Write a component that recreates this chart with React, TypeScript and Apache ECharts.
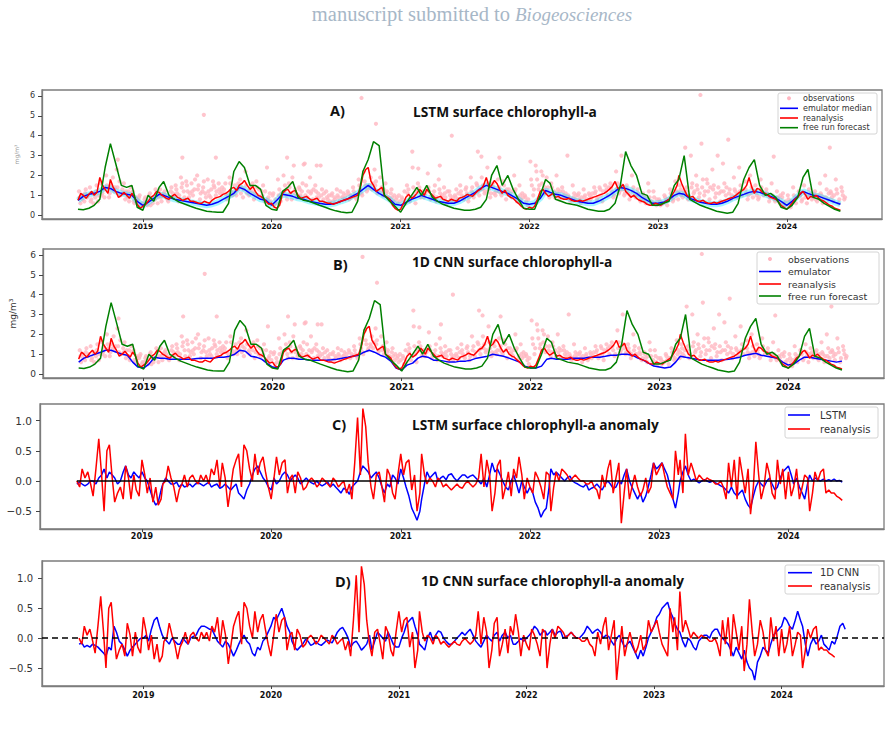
import React, { useEffect, useRef } from "react";
import * as echarts from "echarts";

// Half-monthly sampling, starting 2018-07-01 (slot 0) and ending 2024-06-01 (slot 142);
// "Mid" arrays hold the value 8 days after each slot start.
const slotDate = (i: number, offsetDays = 0) =>
  Date.UTC(2018, 6 + Math.floor(i / 2), (i % 2 ? 16 : 1) + offsetDays);

const YEAR_TICKS = [2019, 2020, 2021, 2022, 2023, 2024].map((y) => Date.UTC(y, 0, 1));

// Surface chlorophyll-a, mg/m3
const reanalysis = [
  0.75, 1.0, 1.05, 1.0, 1.9, 1.3, 1.8, 1.2, 1.0, 1.0, 1.1, 0.55,
  0.45, 0.7, 1.0, 1.15, 0.95, 0.8, 1.05, 0.85, 0.8, 0.7, 0.65, 0.6, 0.65, 0.75, 0.9, 1.05, 1.2, 1.4, 1.5, 1.75, 1.3, 1.2, 0.95, 0.7,
  0.6, 0.35, 1.1, 1.3, 1.2, 1.0, 0.9, 0.85, 0.8, 0.7, 0.65, 0.6, 0.6, 0.7, 0.8, 0.9, 1.0, 2.0, 2.4, 1.5, 1.3, 1.0, 0.8, 0.35,
  0.3, 0.9, 0.85, 1.1, 1.2, 1.3, 1.0, 0.9, 0.8, 0.7, 0.75, 0.85, 0.95, 1.0, 1.1, 1.3, 1.9, 1.5, 1.6, 1.1, 1.0, 0.85, 0.6, 0.35,
  0.4, 0.45, 1.2, 1.1, 1.0, 0.9, 0.85, 0.8, 0.75, 0.7, 0.7, 0.8, 0.9, 1.0, 1.1, 1.3, 1.7, 1.4, 1.2, 0.9, 0.85, 0.7, 0.55, 0.5,
  0.55, 0.6, 0.8, 1.2, 2.0, 1.3, 0.9, 0.8, 0.7, 0.65, 0.6, 0.6, 0.7, 0.8, 0.9, 1.1, 1.3, 1.9, 1.1, 1.3, 1.1, 0.9, 0.8, 0.5,
  0.3, 0.6, 0.9, 1.2, 0.8, 0.9, 0.85, 0.7, 0.5, 0.35, 0.25,
];
const reanalysisMid = [
  1.1, 0.85, 1.2, 1.15, 1.5, 1.1, 1.4, 0.9, 1.15, 0.85, 0.9, 0.35,
  0.55, 0.9, 1.2, 1.0, 0.85, 0.95, 0.9, 0.75, 0.85, 0.7, 0.6, 0.7, 0.6, 0.85, 0.95, 1.1, 1.35, 1.25, 1.6, 1.5, 1.45, 1.0, 0.85, 0.55,
  0.4, 0.5, 1.25, 1.1, 1.25, 0.85, 0.95, 0.75, 0.85, 0.7, 0.6, 0.55, 0.65, 0.75, 0.85, 0.95, 1.4, 2.3, 1.7, 1.2, 1.4, 0.9, 0.5, 0.25,
  0.6, 1.05, 0.95, 1.3, 1.0, 1.15, 0.85, 0.95, 0.75, 0.8, 0.7, 0.9, 1.05, 0.95, 1.25, 1.5, 1.4, 1.75, 1.3, 1.25, 0.9, 0.7, 0.45, 0.3,
  0.35, 0.8, 1.3, 0.95, 1.1, 0.95, 0.8, 0.85, 0.7, 0.75, 0.75, 0.85, 0.95, 1.05, 1.2, 1.45, 1.35, 1.55, 1.05, 1.0, 0.75, 0.65, 0.5, 0.6,
  0.5, 0.7, 1.0, 1.5, 1.6, 1.0, 0.95, 0.7, 0.75, 0.6, 0.65, 0.65, 0.75, 0.85, 1.0, 1.2, 1.5, 1.4, 1.35, 1.15, 1.0, 0.85, 0.65, 0.4,
  0.45, 0.8, 1.1, 1.0, 0.95, 1.0, 0.75, 0.6, 0.45, 0.3,
];

const freeRun = [
  0.3, 0.28, 0.35, 0.5, 0.8, 2.4, 3.6, 2.6, 1.5, 1.4, 1.5, 0.4,
  0.25, 1.0, 0.7, 1.4, 1.7, 1.0, 0.8, 0.65, 0.55, 0.45, 0.35, 0.28, 0.2, 0.17, 0.15, 0.15, 0.6, 2.2, 2.7, 2.4, 1.5, 1.5, 1.3, 0.5,
  0.3, 0.25, 1.2, 1.4, 1.7, 0.9, 0.75, 0.7, 0.6, 0.5, 0.4, 0.3, 0.22, 0.16, 0.12, 0.15, 0.7, 2.2, 2.8, 3.7, 3.5, 1.0, 0.7, 0.45,
  0.15, 0.6, 1.0, 1.4, 1.0, 1.5, 0.9, 0.7, 0.55, 0.45, 0.35, 0.3, 0.25, 0.25, 0.3, 0.4, 0.8, 2.0, 2.5, 1.5, 2.0, 1.3, 0.8, 0.35,
  0.3, 0.3, 1.0, 1.8, 1.6, 0.8, 0.7, 0.6, 0.55, 0.5, 0.4, 0.3, 0.25, 0.2, 0.2, 0.3, 0.6, 1.5, 3.2, 2.5, 2.0, 1.1, 1.0, 0.5,
  0.5, 0.6, 0.7, 1.5, 1.8, 3.0, 0.8, 0.65, 0.5, 0.4, 0.3, 0.2, 0.15, 0.1, 0.15, 0.6, 1.8, 2.4, 2.8, 1.5, 1.0, 1.1, 0.9, 0.4,
  0.3, 0.5, 0.9, 1.9, 2.3, 0.9, 0.8, 0.6, 0.45, 0.3, 0.2,
];

const lstmMedian = [
  0.75, 0.95, 1.05, 1.1, 1.2, 1.4, 1.35, 1.2, 1.1, 1.05, 1.0, 0.7,
  0.5, 0.65, 0.85, 1.05, 1.0, 0.9, 0.8, 0.75, 0.7, 0.65, 0.6, 0.55, 0.5, 0.55, 0.65, 0.8, 0.95, 1.1, 1.4, 1.3, 1.1, 0.95, 0.8, 0.75,
  0.5, 0.75, 1.05, 1.0, 0.95, 0.85, 0.8, 0.7, 0.65, 0.6, 0.55, 0.55, 0.6, 0.7, 0.8, 0.95, 1.1, 1.3, 1.5, 1.3, 1.1, 0.95, 0.8, 0.55,
  0.5, 0.65, 0.8, 0.9, 1.0, 0.9, 0.8, 0.7, 0.65, 0.6, 0.6, 0.7, 0.85, 1.0, 1.15, 1.35, 1.5, 1.4, 1.3, 1.2, 1.1, 0.95, 0.8, 0.6,
  0.55, 0.6, 0.85, 1.25, 1.15, 1.05, 1.0, 0.9, 0.8, 0.7, 0.65, 0.6, 0.6, 0.7, 0.85, 1.0, 1.2, 1.4, 1.35, 1.25, 1.1, 0.9, 0.75, 0.6,
  0.6, 0.65, 0.8, 1.0, 1.1, 1.05, 0.85, 0.75, 0.65, 0.6, 0.55, 0.55, 0.6, 0.7, 0.85, 0.95, 1.05, 1.15, 1.2, 1.15, 1.05, 0.95, 0.85, 0.7,
  0.5, 0.7, 0.95, 1.2, 1.1, 1.0, 0.95, 0.85, 0.75, 0.65, 0.55,
];

const cnnEmulator = [
  0.6, 0.8, 0.9, 1.0, 1.1, 1.2, 1.2, 1.1, 1.0, 0.95, 0.6, 0.35,
  0.3, 0.5, 0.85, 0.8, 0.8, 0.75, 0.75, 0.75, 0.75, 0.75, 0.78, 0.8, 0.8, 0.8, 0.85, 0.85, 0.9, 1.0, 1.2, 1.15, 0.9, 0.85, 0.75, 0.55,
  0.35, 0.3, 0.7, 0.8, 0.8, 0.75, 0.75, 0.7, 0.7, 0.7, 0.7, 0.72, 0.75, 0.8, 0.85, 0.9, 0.95, 1.1, 1.2, 1.1, 0.95, 0.85, 0.65, 0.3,
  0.2, 0.45, 0.55, 0.8, 0.9, 0.85, 0.7, 0.7, 0.65, 0.6, 0.6, 0.65, 0.65, 0.7, 0.8, 0.85, 0.9, 1.0, 0.95, 0.9, 0.8, 0.7, 0.6, 0.4,
  0.3, 0.3, 0.4, 0.75, 0.8, 0.75, 0.75, 0.75, 0.8, 0.8, 0.8, 0.85, 0.85, 0.85, 0.9, 0.95, 0.95, 1.0, 1.0, 0.95, 0.8, 0.7, 0.55, 0.4,
  0.35, 0.3, 0.35, 0.6, 0.9, 0.85, 0.8, 0.75, 0.7, 0.7, 0.7, 0.7, 0.72, 0.75, 0.8, 0.85, 0.95, 1.0, 1.05, 0.95, 0.9, 0.85, 0.8, 0.6,
  0.45, 0.5, 0.7, 0.85, 0.85, 0.8, 0.75, 0.7, 0.65, 0.6, 0.65,
];

// Satellite observations, five passes per half-month slot (days +3, +7, +11, +5, +13)
const obsPass1 = [
  1.2, 0.7, 1.4, 0.9, 1.6, 2.0, 1.5, 2.3, 1.3, 0.9, 1.2, 0.8,
  0.6, 1.0, 0.8, 1.3, 1.2, 0.9, 1.5, 1.9, 1.7, 1.6, 2.0, 1.2, 1.8, 1.7, 1.6, 1.3, 1.9, 1.5, 1.8, 2.2, 1.4, 1.7, 1.2, 2.4,
  1.0, 1.8, 2.0, 1.6, 2.5, 1.4, 2.6, 1.9, 1.5, 2.5, 1.2, 1.0, 1.3, 0.9, 1.2, 1.4, 1.8, 2.2, 1.5, 2.3, 1.9, 1.6, 1.1, 0.8,
  0.9, 1.5, 2.4, 1.6, 1.2, 2.1, 1.0, 1.8, 1.4, 1.2, 1.0, 1.5, 1.3, 1.9, 1.6, 1.9, 2.4, 1.6, 1.8, 1.7, 1.3, 2.0, 1.5, 1.0,
  2.7, 2.5, 2.2, 1.9, 1.6, 2.0, 1.4, 3.0, 1.5, 1.0, 1.3, 1.1, 1.4, 1.4, 1.5, 1.6, 2.2, 3.0, 1.5, 2.0, 1.3, 1.1, 1.6, 1.2,
  0.8, 1.0, 1.3, 1.7, 1.5, 3.4, 3.0, 2.0, 3.6, 1.8, 2.3, 3.0, 2.6, 3.8, 1.9, 2.4, 1.7, 2.0, 1.5, 1.8, 1.3, 1.6, 1.2, 0.9,
  1.0, 1.4, 1.2, 1.5, 1.3, 1.1, 1.6, 2.0, 1.2, 1.8, 1.4,
];
const obsPass2 = [
  0.6, 1.3, 0.8, 1.5, 1.1, 1.3, 1.9, 1.1, 1.6, 0.7, 0.6, 1.0,
  0.9, 0.5, 1.1, 0.7, 0.9, 1.4, 1.1, 1.6, 1.2, 1.0, 1.5, 1.7, 1.0, 1.4, 1.1, 1.6, 1.2, 1.0, 1.4, 1.1, 1.6, 1.0, 1.5, 0.9,
  0.5, 1.3, 1.5, 1.1, 1.3, 1.0, 1.5, 1.2, 0.9, 1.3, 0.8, 0.7, 0.9, 1.1, 0.8, 1.0, 1.3, 1.5, 1.9, 1.7, 1.4, 1.2, 0.9, 0.6,
  0.5, 1.3, 1.0, 1.4, 0.9, 1.2, 1.5, 1.1, 0.9, 0.8, 1.3, 1.0, 1.1, 1.4, 1.2, 1.5, 1.3, 1.1, 1.4, 1.2, 1.0, 1.3, 0.8, 0.7,
  1.5, 1.8, 2.0, 1.4, 1.1, 1.3, 1.0, 0.9, 1.1, 0.8, 1.0, 0.8, 1.2, 1.0, 1.3, 1.2, 1.6, 1.3, 1.1, 1.4, 1.0, 0.8, 0.9, 0.6,
  0.5, 0.7, 0.9, 1.2, 1.0, 1.4, 1.6, 1.3, 1.8, 1.2, 1.5, 1.1, 1.6, 1.3, 1.2, 1.5, 1.1, 1.4, 1.0, 1.2, 1.0, 0.9, 0.8, 0.6,
  0.6, 0.8, 1.0, 0.9, 1.1, 0.8, 1.0, 1.3, 0.9, 1.1, 1.0,
];
const obsPass3 = [
  1.0, 0.9, 1.1, 0.7, 1.3, 0.9, 1.2, 1.7, 0.8, 1.4, 0.9, 0.5,
  0.7, 0.8, 0.6, 1.0, 0.8, 1.1, 0.7, 1.2, 0.9, 1.3, 0.8, 1.1, 0.9, 1.0, 1.2, 0.8, 1.0, 1.3, 0.9, 1.2, 0.8, 1.3, 0.7, 1.1,
  0.8, 0.7, 1.0, 0.8, 0.9, 1.2, 0.9, 0.8, 1.1, 0.8, 1.0, 0.9, 0.7, 0.8, 1.0, 0.9, 1.1, 1.2, 1.3, 1.1, 1.0, 0.9, 0.7, 1.0,
  1.2, 0.7, 0.6, 0.9, 1.1, 0.8, 0.7, 0.9, 0.6, 0.7, 0.8, 0.9, 0.7, 0.9, 1.0, 1.1, 0.9, 1.0, 1.1, 0.8, 0.9, 0.7, 1.1, 0.5,
  1.0, 1.3, 1.1, 0.9, 1.2, 0.8, 0.9, 0.7, 0.8, 0.6, 0.7, 0.9, 0.8, 0.7, 1.0, 0.9, 1.1, 1.0, 0.8, 1.0, 0.7, 0.6, 0.6, 0.5,
  0.6, 0.5, 0.7, 0.8, 0.9, 0.8, 1.1, 0.9, 1.0, 0.8, 0.9, 0.7, 1.0, 0.8, 0.9, 1.0, 0.8, 0.9, 0.8, 1.0, 0.7, 0.8, 0.6, 0.5,
  0.4, 0.6, 0.7, 0.6, 0.8, 0.7, 0.6, 0.8, 0.7, 0.6, 0.8,
];
const obsPass4 = [
  0.9, 1.1, 0.7, 1.2, 1.0, 1.5, 1.3, 1.4, 1.1, 1.2, 0.7, 0.9,
  0.8, 1.1, 1.3, 0.9, 1.0, 1.2, 1.3, 1.4, 1.5, 1.2, 1.3, 1.4, 1.2, 1.5, 1.3, 1.1, 1.6, 1.2, 1.1, 1.5, 1.2, 1.4, 1.0, 0.8,
  1.1, 1.0, 1.2, 1.4, 1.1, 1.3, 1.0, 1.1, 1.2, 1.0, 0.9, 1.1, 1.0, 0.9, 1.1, 1.2, 1.5, 1.7, 1.4, 1.5, 1.2, 1.1, 1.3, 0.9,
  0.8, 1.1, 1.4, 1.2, 1.0, 1.4, 1.2, 1.3, 1.1, 1.0, 0.9, 1.2, 1.4, 1.2, 1.5, 1.3, 1.6, 1.4, 1.2, 1.5, 1.1, 1.2, 1.0, 0.9,
  1.8, 2.2, 1.6, 1.2, 1.4, 1.1, 1.2, 1.0, 0.9, 1.1, 0.9, 1.0, 1.1, 1.3, 1.2, 1.4, 1.3, 1.5, 1.3, 1.2, 1.1, 1.0, 1.2, 0.9,
  0.7, 0.9, 1.1, 1.0, 1.3, 1.2, 1.4, 1.5, 1.4, 1.6, 1.3, 1.4, 1.2, 1.1, 1.3, 1.2, 1.3, 1.1, 1.2, 1.4, 1.1, 1.0, 0.9, 1.1,
  0.8, 1.0, 1.2, 1.1, 1.0, 1.2, 1.1, 0.9, 1.1, 1.3, 1.2,
];
const obsPass5 = [
  0.8, 1.0, 0.6, 1.0, 0.9, 1.1, 1.4, 1.0, 1.2, 1.1, 0.8, 0.6,
  0.5, 0.6, 0.9, 1.1, 0.7, 0.9, 1.0, 0.9, 1.1, 1.8, 1.1, 0.9, 1.3, 1.2, 1.4, 1.0, 1.1, 1.6, 1.3, 1.0, 1.1, 0.9, 1.2, 0.7,
  0.6, 1.1, 0.8, 1.9, 1.0, 1.6, 1.2, 1.3, 0.9, 1.1, 0.7, 0.8, 1.2, 1.0, 0.9, 0.8, 1.0, 1.3, 1.6, 1.2, 1.3, 0.8, 1.0, 0.7,
  0.6, 0.9, 1.2, 1.0, 1.3, 1.0, 0.9, 1.0, 1.2, 0.9, 1.1, 0.8, 0.9, 1.1, 1.3, 1.2, 1.1, 1.2, 1.0, 1.3, 1.2, 0.9, 0.9, 0.8,
  1.3, 1.5, 1.4, 1.1, 0.9, 1.2, 1.1, 0.8, 1.0, 0.9, 0.8, 1.1, 0.9, 1.2, 1.4, 1.0, 1.2, 1.1, 1.0, 0.9, 0.8, 0.9, 0.7, 0.8,
  0.6, 0.8, 0.8, 1.1, 1.2, 1.0, 1.2, 1.1, 1.2, 1.4, 1.1, 1.2, 1.4, 1.0, 1.1, 1.3, 1.0, 1.2, 0.9, 1.1, 0.9, 0.7, 1.0, 0.7,
  0.7, 0.9, 0.8, 1.0, 0.9, 1.0, 0.9, 1.1, 1.0, 0.8, 0.9,
];
// High individual observations
const obsHigh: [string, number][] = [
  ["2018-10-22", 2.8], ["2019-04-23", 2.9], ["2019-06-23", 5.05], ["2019-07-27", 2.9],
  ["2020-02-14", 2.9], ["2020-04-01", 2.55], ["2020-05-08", 2.5], ["2020-09-12", 5.9],
  ["2020-10-23", 4.6], ["2021-02-03", 3.2], ["2021-02-20", 2.35], ["2021-04-22", 2.5],
  ["2021-05-26", 4.0], ["2021-08-08", 3.2], ["2021-08-18", 2.95], ["2021-10-08", 2.9],
  ["2023-05-01", 6.05], ["2023-11-25", 2.95], ["2024-05-02", 3.4],
];

// Anomalies
const lstmAnomaly = [
  -0.05, -0.05, -0.05, 0.0, 0.05, 0.2, 0.15, 0.05, 0.0, 0.25, 0.05, 0.1,
  0.15, 0.0, -0.3, -0.35, -0.05, 0.0, -0.05, -0.1, -0.1, -0.05, -0.05, -0.05, -0.05, -0.1, -0.05, -0.1, -0.1, -0.1, -0.2, -0.3, -0.05, 0.2, 0.15, 0.0,
  -0.15, -0.05, 0.1, 0.1, 0.05, 0.05, 0.0, 0.0, -0.05, -0.05, -0.05, -0.1, -0.1, -0.2, -0.15, -0.1, 0.0, 0.25, 0.15, 0.1, 0.05, -0.2, -0.1, 0.05,
  0.2, -0.1, -0.45, -0.65, -0.3, 0.15, 0.1, 0.0, 0.08, 0.1, 0.05, 0.05, 0.1, 0.08, 0.05, -0.05, -0.1, 0.3, 0.2, 0.0, -0.15, 0.1, -0.2, -0.1,
  -0.1, -0.35, -0.6, -0.45, 0.2, 0.15, 0.05, 0.05, 0.0, -0.05, -0.1, -0.15, -0.1, -0.1, -0.05, -0.05, -0.1, -0.05, 0.2, -0.1, -0.3, -0.35, -0.1, 0.3,
  0.25, 0.2, -0.1, -0.45, 0.0, 0.25, 0.0, 0.0, 0.0, 0.0, 0.0, -0.05, -0.1, -0.2, -0.2, -0.2, -0.3, -0.45, -0.1, -0.05, 0.0, -0.05, -0.1, 0.15,
  0.25, -0.05, -0.1, -0.3, 0.1, 0.05, 0.0, 0.0, 0.0, 0.0, -0.02,
];
const lstmAnomalyMid = [
  -0.02, -0.08, 0.0, -0.05, 0.1, 0.05, 0.1, -0.05, 0.15, 0.1, 0.15, 0.05,
  0.05, -0.15, -0.4, -0.15, 0.05, -0.05, -0.02, -0.05, -0.08, -0.1, -0.03, -0.08, -0.02, -0.07, -0.12, -0.05, -0.15, -0.05, -0.25, -0.15, 0.1, 0.25, 0.05, -0.1,
  0.05, 0.0, 0.15, 0.0, 0.1, -0.05, 0.05, -0.03, 0.0, -0.08, -0.02, -0.05, -0.15, -0.12, -0.22, -0.05, 0.15, 0.2, 0.05, 0.15, -0.1, -0.05, 0.1, -0.05,
  0.05, -0.25, -0.55, -0.5, -0.05, 0.05, 0.15, 0.05, 0.02, 0.12, 0.0, 0.1, 0.05, 0.1, 0.0, 0.05, 0.1, 0.15, 0.1, -0.1, 0.0, -0.05, 0.0, -0.2,
  -0.2, -0.45, -0.5, -0.1, 0.1, 0.1, 0.0, 0.08, -0.03, -0.08, -0.05, -0.12, -0.05, -0.15, 0.0, -0.12, 0.0, 0.1, 0.0, -0.2, -0.2, -0.25, 0.1, 0.2,
  0.3, 0.1, -0.3, -0.2, 0.15, 0.1, 0.03, -0.03, 0.02, -0.02, -0.03, -0.08, -0.15, -0.1, -0.25, -0.15, -0.4, -0.25, 0.0, -0.1, 0.05, -0.15, 0.05, 0.2,
  0.1, 0.05, -0.2, -0.05, 0.0, 0.02, 0.03, 0.02, 0.03, 0.01,
];

const reanalysisAnomaly = [
  0.0, 0.2, 0.15, -0.25, 0.7, -0.5, 0.6, -0.35, -0.1, 0.25, -0.3, -0.15,
  0.35, -0.2, -0.35, -0.4, -0.05, 0.25, -0.1, -0.15, 0.1, 0.05, 0.0, 0.1, 0.1, 0.2, 0.35, 0.3, -0.43, 0.2, 0.45, 0.6, 0.2, 0.45, 0.3, 0.15,
  -0.3, 0.4, 0.3, -0.2, 0.1, 0.15, -0.15, 0.0, 0.0, -0.05, 0.0, -0.1, 0.0, -0.05, -0.2, -0.3, 1.05, 1.2, 0.3, -0.3, 0.15, -0.35, 0.1, -0.3,
  0.45, 0.3, -0.15, -0.5, 0.45, -0.05, 0.0, 0.05, -0.1, -0.1, -0.1, -0.1, -0.05, -0.05, -0.05, 0.45, 0.35, -0.5, 0.25, -0.3, 0.15, 0.2, 0.4, -0.3,
  -0.1, 0.15, -0.1, 0.15, -0.5, 0.15, 0.2, 0.1, 0.05, 0.05, 0.0, -0.05, -0.1, -0.3, -0.1, 0.35, 0.05, -0.7, 0.2, -0.1, -0.1, -0.15, -0.2, 0.3,
  0.2, 0.1, -0.2, 0.5, 0.35, 0.78, 0.3, 0.0, 0.05, 0.05, 0.0, -0.05, -0.1, 0.3, 0.35, 0.4, -0.2, -0.55, 0.65, -0.3, 0.3, -0.2, 0.35, 0.2,
  0.15, -0.1, -0.3, 0.1, -0.5, 0.15, 0.15, -0.2, -0.2, -0.25, -0.32,
];
const reanalysisAnomalyMid = [
  -0.1, 0.05, -0.05, 0.2, 0.1, 0.5, 0.05, -0.2, -0.3, 0.05, 0.1, -0.25,
  0.1, 0.05, -0.1, -0.3, 0.0, 0.05, -0.35, -0.05, -0.1, 0.1, -0.05, 0.0, -0.05, 0.1, -0.1, 0.05, -0.1, 0.35, -0.1, 0.5, 0.0, 0.1, 0.4, -0.1,
  0.05, 0.1, 0.35, 0.05, -0.2, 0.05, -0.1, 0.05, -0.1, 0.05, -0.05, 0.05, -0.1, 0.0, -0.05, 0.3, 0.1, 0.9, -0.1, 0.1, -0.1, 0.2, -0.2, 0.1,
  0.1, 0.35, 0.1, -0.2, 0.1, 0.05, -0.1, 0.0, -0.05, -0.15, -0.05, -0.12, 0.0, -0.1, 0.05, -0.1, 0.1, -0.2, 0.35, -0.1, -0.25, 0.05, 0.1, 0.05,
  -0.2, 0.05, -0.3, 0.1, -0.1, 0.0, 0.15, 0.0, 0.1, 0.0, -0.05, 0.0, -0.15, 0.1, 0.2, -0.2, 0.3, -0.2, -0.3, 0.1, -0.25, 0.05, -0.1, 0.1,
  0.3, -0.1, -0.3, 0.1, -0.2, 0.1, 0.15, 0.1, 0.0, 0.02, -0.05, 0.0, -0.3, -0.1, -0.3, 0.1, 0.2, -0.1, 0.1, -0.1, 0.1, -0.3, -0.05, -0.3,
  -0.25, 0.2, -0.1, 0.05, -0.2, 0.0, 0.2, -0.15, -0.2, -0.28,
];

const cnnAnomaly = [
  -0.1, -0.15, -0.15, -0.12, -0.2, -0.3, -0.2, 0.1, -0.1, -0.3, -0.15, -0.05,
  0.0, -0.05, 0.3, 0.2, 0.0, -0.1, -0.05, -0.1, -0.05, 0.0, 0.05, 0.2, 0.18, 0.15, -0.05, -0.15, -0.1, -0.3, -0.1, 0.05, -0.1, -0.3, -0.2, 0.0,
  0.2, 0.3, 0.5, 0.2, -0.05, -0.2, -0.1, -0.05, -0.1, -0.1, -0.08, -0.05, 0.0, 0.15, 0.1, -0.15, -0.05, -0.2, -0.1, -0.2, 0.1, 0.0, 0.1, -0.1,
  -0.15, 0.1, 0.3, 0.2, -0.1, -0.2, 0.1, 0.05, 0.1, -0.05, -0.1, 0.0, 0.1, 0.1, 0.05, -0.1, -0.05, 0.0, 0.05, -0.05, 0.1, 0.05, -0.1, 0.0,
  0.0, 0.1, 0.15, 0.1, 0.05, 0.15, 0.1, 0.0, 0.05, 0.05, 0.0, 0.1, 0.15, 0.12, 0.1, 0.05, -0.05, 0.0, -0.05, -0.1, -0.15, -0.35, -0.3, 0.0,
  0.2, 0.4, 0.55, 0.45, 0.25, 0.1, -0.15, -0.05, -0.2, 0.0, 0.05, 0.1, 0.15, 0.0, -0.1, -0.3, -0.25, -0.2, -0.5, -0.7, -0.3, -0.2, -0.1, 0.1,
  0.2, 0.3, 0.15, 0.45, 0.2, -0.3, 0.0, -0.05, -0.1, -0.2, -0.1, 0.2, 0.15,
];
const cnnAnomalyMid = [
  -0.08, -0.12, -0.1, -0.15, -0.25, -0.15, 0.2, -0.05, -0.2, -0.2, -0.1, 0.0,
  0.05, 0.15, 0.35, 0.05, -0.05, 0.0, -0.1, 0.0, -0.1, 0.03, 0.15, 0.2, 0.15, 0.05, -0.1, -0.05, -0.2, -0.2, 0.0, -0.05, -0.25, -0.15, -0.05, 0.1,
  0.35, 0.4, 0.35, 0.1, -0.15, -0.15, -0.02, -0.12, -0.05, -0.12, -0.03, -0.08, 0.1, 0.18, 0.0, -0.08, -0.12, -0.15, 0.05, -0.05, 0.05, -0.05, 0.0, -0.15,
  0.0, 0.25, 0.35, 0.05, -0.15, 0.0, -0.05, 0.12, 0.0, -0.1, -0.05, 0.05, 0.05, 0.15, -0.05, -0.15, 0.05, -0.05, 0.1, 0.05, 0.0, -0.1, -0.05, -0.05,
  0.05, 0.2, 0.05, 0.12, 0.1, 0.05, 0.12, 0.03, 0.1, 0.0, 0.05, 0.2, 0.08, 0.15, 0.0, 0.03, -0.12, 0.05, -0.15, -0.05, -0.25, -0.2, -0.15, 0.1,
  0.35, 0.5, 0.6, 0.35, 0.15, -0.05, 0.0, -0.15, -0.05, 0.05, 0.0, 0.15, 0.05, -0.05, -0.2, -0.15, -0.35, -0.4, -0.55, -0.4, -0.15, -0.25, 0.05, 0.15,
  0.35, 0.2, 0.3, 0.3, -0.1, -0.1, -0.1, 0.05, -0.15, -0.05, 0.05, 0.25,
];

const CHL_TICKS = [0, 1, 2, 3, 4, 5, 6];
const ANOM_TICKS = [-0.5, 0, 0.5, 1.0];

const RED = "#ff0000";
const BLUE = "#0000ff";
const GREEN = "#008000";
const PINK = "#ffb6c1";
const FRAME = "#7c7c7c";

const toPairs = (arr: number[], offsetDays = 0) => arr.map((v, i) => [slotDate(i, offsetDays), v]);

// Interleave slot values with the values 8 days later
const weave = (main: number[], mid: number[]) => {
  const out: number[][] = [];
  main.forEach((v, i) => {
    out.push([slotDate(i), v]);
    if (i < mid.length) out.push([slotDate(i, 8), mid[i]]);
  });
  return out;
};

const anomLabel = (v: number) => (v < 0 ? "\u2212" + Math.abs(v).toFixed(1) : v.toFixed(1));

// Dates are plotted as UTC milliseconds on a numeric axis with year ticks
function xAxisFor(gridIndex: number, min: number, max: number, fontSize: number, margin: number) {
  return {
    type: "value",
    gridIndex,
    min,
    max,
    axisLine: { show: true, onZero: false, lineStyle: { color: FRAME, width: 1.3 } },
    axisTick: { show: true, length: 3, customValues: YEAR_TICKS, lineStyle: { color: "#444", width: 1 } },
    axisLabel: {
      customValues: YEAR_TICKS,
      formatter: (v: number) => String(new Date(v).getUTCFullYear()),
      fontSize,
      fontWeight: "bold",
      color: "#111",
      margin,
      fontFamily: "DejaVu Sans",
    },
    splitLine: { show: false },
  };
}

function yAxisFor(
  gridIndex: number,
  min: number,
  max: number,
  ticks: number[],
  fmt: (v: number) => string,
  fontSize: number,
  margin: number,
  extra: any = {}
) {
  return {
    type: "value",
    gridIndex,
    min,
    max,
    axisLine: { show: true, onZero: false, lineStyle: { color: FRAME, width: 1.3 } },
    axisTick: { show: true, length: 4, customValues: ticks, lineStyle: { color: "#444", width: 1 } },
    axisLabel: { customValues: ticks, formatter: fmt, fontSize, color: "#333", margin, fontFamily: "DejaVu Sans" },
    splitLine: { show: false },
    ...extra,
  };
}

function legendBox(
  x: number,
  y: number,
  w: number,
  h: number,
  rows: { label: string; kind: "dot" | "line"; color: string; y: number }[],
  lineX0: number,
  lineX1: number,
  textX: number,
  fontSize: number
) {
  const children: any[] = [
    { type: "rect", shape: { x, y, width: w, height: h, r: 2 }, style: { fill: "#fff", stroke: "#d4d4d4", lineWidth: 1 } },
  ];
  rows.forEach((r) => {
    if (r.kind === "dot") {
      children.push({ type: "circle", shape: { cx: (lineX0 + lineX1) / 2, cy: r.y, r: 2 }, style: { fill: r.color } });
    } else {
      children.push({
        type: "line",
        shape: { x1: lineX0, y1: r.y, x2: lineX1, y2: r.y },
        style: { stroke: r.color, lineWidth: 1.6 },
      });
    }
    children.push({
      type: "text",
      style: {
        x: textX,
        y: r.y,
        text: r.label,
        fill: "#333",
        fontSize,
        fontFamily: "DejaVu Sans",
        textVerticalAlign: "middle",
        textAlign: "left",
      },
    });
  });
  return { type: "group", children };
}

function titleText(x: number, y: number, text: string, size: number) {
  return {
    type: "text",
    style: {
      x,
      y,
      text,
      fill: "#111",
      fontSize: size,
      fontWeight: "bold",
      fontFamily: "Open Sans",
      textVerticalAlign: "middle",
      textAlign: "left",
    },
  };
}

export default function App() {
  const ref = useRef<HTMLDivElement>(null);

  useEffect(() => {
    if (!ref.current) return;
    const chart = echarts.init(ref.current, undefined, { renderer: "svg" });

    const obsSeries = (xi: number) =>
      [
        toPairs(obsPass1, 3),
        toPairs(obsPass2, 7),
        toPairs(obsPass3, 11),
        toPairs(obsPass4, 5),
        toPairs(obsPass5, 13),
        obsHigh.map(([d, v]) => [Date.parse(d), v]),
      ].map((data) => ({
        type: "scatter",
        xAxisIndex: xi,
        yAxisIndex: xi,
        data,
        symbolSize: 4.2,
        itemStyle: { color: PINK },
        silent: true,
      }));

    const line = (xi: number, data: number[][], color: string, width = 1.5, extra: any = {}) => ({
      type: "line",
      xAxisIndex: xi,
      yAxisIndex: xi,
      data,
      showSymbol: false,
      symbol: "none",
      lineStyle: { color, width },
      itemStyle: { color },
      silent: true,
      ...extra,
    });

    const reanalysisPts = weave(reanalysis, reanalysisMid);
    const reanAnomPts = weave(reanalysisAnomaly, reanalysisAnomalyMid);

    const option: any = {
      animation: false,
      backgroundColor: "#ffffff",
      grid: [
        { left: 42, top: 90, width: 840, height: 129, show: true, borderColor: FRAME, borderWidth: 1.3 },
        { left: 43, top: 249, width: 841, height: 129, show: true, borderColor: FRAME, borderWidth: 1.3 },
        { left: 40, top: 404, width: 844, height: 125, show: true, borderColor: FRAME, borderWidth: 1.3 },
        { left: 42, top: 561, width: 842, height: 125, show: true, borderColor: FRAME, borderWidth: 1.3 },
      ],
      xAxis: [
        xAxisFor(0, Date.UTC(2018, 2, 21), Date.UTC(2024, 8, 27), 7.5, 3),
        xAxisFor(1, Date.UTC(2018, 2, 22), Date.UTC(2024, 8, 28), 9, 4),
        xAxisFor(2, Date.UTC(2018, 2, 19), Date.UTC(2024, 8, 27), 8, 3),
        xAxisFor(3, Date.UTC(2018, 2, 17), Date.UTC(2024, 9, 20), 8, 5),
      ],
      yAxis: [
        yAxisFor(0, -0.19, 6.3, CHL_TICKS, (v) => String(v), 8, 7, {
          name: "mg/m\u00b3",
          nameLocation: "middle",
          nameGap: 19,
          nameRotate: 90,
          nameTextStyle: { fontSize: 6, color: "#999", fontFamily: "DejaVu Sans" },
        }),
        yAxisFor(1, -0.2, 6.3, CHL_TICKS, (v) => String(v), 9, 7, {
          name: "mg/m\u00b3",
          nameLocation: "middle",
          nameGap: 26,
          nameRotate: 90,
          nameTextStyle: { fontSize: 9, color: "#333", fontFamily: "DejaVu Sans" },
        }),
        yAxisFor(2, -0.795, 1.275, ANOM_TICKS, anomLabel, 10.5, 8),
        yAxisFor(3, -0.8, 1.29, ANOM_TICKS, anomLabel, 10, 9),
      ],
      series: [
        // A) LSTM
        ...obsSeries(0),
        line(0, toPairs(lstmMedian), "rgba(0,230,255,0.35)", 6),
        line(0, toPairs(lstmMedian), BLUE),
        line(0, reanalysisPts, RED),
        line(0, toPairs(freeRun), GREEN),
        // B) 1D CNN
        ...obsSeries(1),
        line(1, toPairs(cnnEmulator), BLUE),
        line(1, reanalysisPts, RED),
        line(1, toPairs(freeRun), GREEN),
        // C) LSTM anomaly
        line(2, weave(lstmAnomaly, lstmAnomalyMid), BLUE),
        line(2, reanAnomPts, RED),
        line(2, [
          [slotDate(0), 0],
          [slotDate(reanalysisAnomaly.length - 1), 0],
        ], "#000"),
        // D) 1D CNN anomaly
        line(3, weave(cnnAnomaly, cnnAnomalyMid), BLUE),
        line(3, reanAnomPts, RED, 1.5, {
          markLine: {
            silent: true,
            symbol: "none",
            label: { show: false },
            lineStyle: { color: "#000", width: 1.5, type: [6, 4] },
            data: [{ yAxis: 0 }],
          },
        }),
      ],
      graphic: [
        {
          type: "text",
          style: {
            x: 510,
            y: 14,
            text: "manuscript submitted to",
            fill: "#a7b7c7",
            fontSize: 20.5,
            fontFamily: "Liberation Serif",
            textAlign: "right",
            textVerticalAlign: "middle",
          },
        },
        {
          type: "text",
          style: {
            x: 515,
            y: 14,
            text: "Biogeosciences",
            fill: "#a7b7c7",
            fontSize: 19,
            fontStyle: "italic",
            fontFamily: "Liberation Serif",
            textAlign: "left",
            textVerticalAlign: "middle",
          },
        },
        titleText(330, 110, "A)", 14.5),
        titleText(413, 111, "LSTM surface chlorophyll-a", 13.7),
        titleText(333, 264, "B)", 14.5),
        titleText(412, 261, "1D CNN surface chlorophyll-a", 13.7),
        titleText(332, 424, "C)", 14.5),
        titleText(412, 424, "LSTM surface chlorophyll-a anomaly", 13.7),
        titleText(335, 581, "D)", 14.5),
        titleText(421, 580, "1D CNN surface chlorophyll-a anomaly", 13.7),
        legendBox(
          778, 93, 99, 41,
          [
            { label: "observations", kind: "dot", color: PINK, y: 98.3 },
            { label: "emulator median", kind: "line", color: BLUE, y: 108.3 },
            { label: "reanalysis", kind: "line", color: RED, y: 118 },
            { label: "free run forecast", kind: "line", color: GREEN, y: 127.7 },
          ],
          780, 798, 803, 8
        ),
        legendBox(
          757, 252, 122, 52,
          [
            { label: "observations", kind: "dot", color: PINK, y: 259 },
            { label: "emulator", kind: "line", color: BLUE, y: 271.5 },
            { label: "reanalysis", kind: "line", color: RED, y: 284 },
            { label: "free run forecast", kind: "line", color: GREEN, y: 296 },
          ],
          759, 781, 788, 9.5
        ),
        legendBox(
          785, 407, 93, 31,
          [
            { label: "LSTM", kind: "line", color: BLUE, y: 415 },
            { label: "reanalysis", kind: "line", color: RED, y: 429 },
          ],
          788, 810, 820, 10
        ),
        legendBox(
          785, 565, 94, 29,
          [
            { label: "1D CNN", kind: "line", color: BLUE, y: 572.7 },
            { label: "reanalysis", kind: "line", color: RED, y: 586 },
          ],
          788, 812, 820, 10
        ),
      ],
    };

    chart.setOption(option);
    return () => chart.dispose();
  }, []);

  return (
    <div
      ref={ref}
      style={{ position: "absolute", left: 0, top: 0, width: 892, height: 752, background: "#fff" }}
    />
  );
}
